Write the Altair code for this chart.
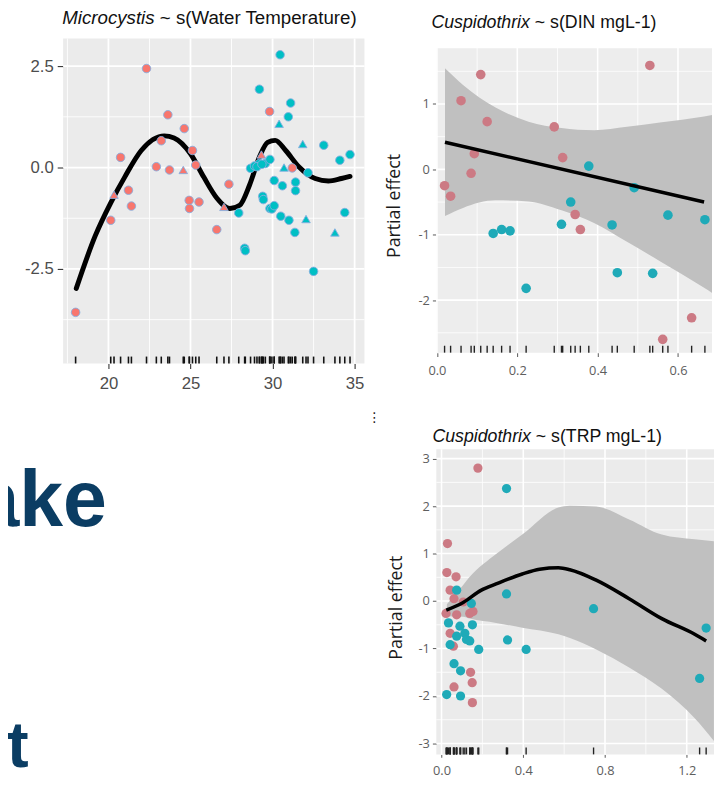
import altair as alt
import pandas as pd

FONT = "Liberation Sans"
FONT2 = "Open Sans"

# ---------------- Panel 1: Microcystis ~ s(Water Temperature) ----------------
P1_TITLE = ["Microcystis", "~ s(Water Temperature)"]
P1_X_TICKS = [20, 25, 30, 35]
P1_X_MINOR = [17.5, 22.5, 27.5, 32.5]
P1_Y_TICKS = [-2.5, 0.0, 2.5]
P1_Y_MINOR = [-3.75, -1.25, 1.25]

P1_RED_CIRC_X = [18.0, 20.14, 20.74, 21.22, 21.4, 22.32, 22.92, 23.22, 23.62, 23.72,
                 24.62, 25.12, 25.32, 24.92, 24.94, 25.52, 26.6, 27.34, 29.82, 31.2]
P1_RED_CIRC_Y = [-3.57, -1.30, 0.25, -0.56, -0.95, 2.44, 0.02, 0.66, 1.30, -0.06,
                 0.96, 0.42, 0.06, -0.81, -1.01, -0.85, -1.53, -0.41, 1.38, -0.01]
P1_RED_TRI_X = [20.34, 24.56, 27.04, 29.32]
P1_RED_TRI_Y = [-0.67, -0.06, -0.97, 0.32]
P1_TEAL_CIRC_X = [27.94, 28.30, 28.34, 28.66, 28.90, 29.20, 29.20, 29.56, 29.84, 29.40,
                  29.44, 29.84, 29.96, 30.10, 30.10, 30.46, 30.60, 30.50, 30.96, 31.10,
                  31.00, 31.36, 31.40, 31.40, 32.16, 32.50, 33.12, 34.10, 34.72, 34.40,
                  29.05, 29.35]
P1_TEAL_CIRC_Y = [-1.12, -1.99, -2.05, -0.02, 0.04, 1.93, 0.10, 0.10, 0.20, -0.71,
                  -0.79, -1.01, -1.02, -0.94, -0.32, 2.78, -0.45, -1.20, 1.25, 1.59,
                  -1.30, -1.60, -0.36, -0.57, -0.13, -2.56, 0.55, 0.18, 0.32, -1.11,
                  0.02, 0.08]
P1_TEAL_TRI_X = [30.40, 30.70, 31.84, 32.04, 33.80]
P1_TEAL_TRI_Y = [1.08, 0.00, 0.58, -1.27, -1.60]
P1_CURVE_X = [18.04, 19.2, 20.14, 21.0, 22.0, 23.4, 24.0, 25.0, 25.8, 26.6, 27.4,
              28.0, 28.6, 29.2, 29.7, 30.16, 30.8, 31.6, 32.6, 33.4, 34.2, 34.72]
P1_CURVE_Y = [-2.98, -1.68, -0.87, -0.23, 0.42, 0.78, 0.73, 0.34, -0.23, -0.75, -1.01,
              -0.93, -0.43, 0.26, 0.62, 0.67, 0.42, 0.02, -0.27, -0.33, -0.27, -0.22]

# ---------------- Panel 2: Cuspidothrix ~ s(DIN mgL-1) ----------------
P2_TITLE = ["Cuspidothrix", "~ s(DIN mgL-1)"]
AXIS_TITLE = ["Partial effect"]
P2_X_TICKS = [0.0, 0.2, 0.4, 0.6]
P2_X_MINOR = [0.1, 0.3, 0.5]
P2_Y_TICKS = [-2, -1, 0, 1]
P2_Y_MINOR = [-2.5, -1.5, -0.5, 0.5, 1.5]
P2_PINK_X = [0.019, 0.034, 0.060, 0.109, 0.125, 0.093, 0.085, 0.292, 0.313, 0.344,
             0.357, 0.530, 0.562, 0.634]
P2_PINK_Y = [-0.25, -0.41, 1.05, 1.45, 0.73, 0.24, -0.06, 0.65, 0.18, -0.69,
             -0.92, 1.59, -2.60, -2.27]
P2_TEAL_X = [0.140, 0.161, 0.182, 0.222, 0.310, 0.333, 0.378, 0.436, 0.449, 0.491,
             0.537, 0.575, 0.667]
P2_TEAL_Y = [-0.98, -0.92, -0.94, -1.82, -0.84, -0.50, 0.05, -0.85, -1.58, -0.28,
             -1.59, -0.70, -0.77]
P2_FIT_X = [0.020, 0.665]
P2_FIT_Y = [0.415, -0.50]
P2_BAND_X = [0.020, 0.065, 0.146, 0.228, 0.310, 0.391, 0.473, 0.555, 0.665, 0.685]
P2_BAND_LO = [-0.715, -0.589, -0.474, -0.490, -0.627, -0.821, -1.108, -1.404, -1.810, -1.89]
P2_BAND_HI = [1.545, 1.291, 0.946, 0.730, 0.633, 0.599, 0.652, 0.716, 0.810, 0.83]

# ---------------- Panel 3: Cuspidothrix ~ s(TRP mgL-1) ----------------
P3_TITLE = ["Cuspidothrix", "~ s(TRP mgL-1)"]
P3_X_TICKS = [0.0, 0.4, 0.8, 1.2]
P3_X_MINOR = [0.2, 0.6, 1.0]
P3_Y_TICKS = [-3, -2, -1, 0, 1, 2, 3]
P3_Y_MINOR = [-2.5, -1.5, -0.5, 0.5, 1.5, 2.5]
P3_PINK_X = [0.029, 0.026, 0.071, 0.042, 0.061, 0.106, 0.022, 0.074, 0.138, 0.154,
             0.042, 0.058, 0.142, 0.150, 0.061, 0.151, 0.178]
P3_PINK_Y = [1.21, 0.60, 0.51, 0.23, 0.05, -0.02, -0.26, -0.29, -0.26, -0.22,
             -0.68, -0.95, -1.50, -1.72, -1.81, -2.14, 2.80]
P3_TEAL_X = [0.074, 0.146, 0.034, 0.090, 0.114, 0.151, 0.074, 0.122, 0.042, 0.138,
             0.182, 0.061, 0.093, 0.025, 0.093, 0.318, 0.318, 0.323, 0.414, 0.744,
             1.295, 1.263]
P3_TEAL_Y = [0.23, -0.05, -0.46, -0.53, -0.68, -0.50, -0.74, -0.81, -0.92, -0.84,
             -1.02, -1.32, -1.47, -1.97, -2.00, 2.37, 0.15, -0.82, -1.02, -0.16,
             -0.57, -1.63]
P3_FIT_X = [0.023, 0.106, 0.195, 0.267, 0.395, 0.480, 0.572, 0.628, 0.757, 0.918,
            1.078, 1.239, 1.295]
P3_FIT_Y = [-0.19, -0.03, 0.23, 0.36, 0.57, 0.67, 0.70, 0.66, 0.44, 0.05,
            -0.37, -0.70, -0.84]
P3_BAND_X = [0.026, 0.106, 0.138, 0.267, 0.395, 0.572, 0.628, 0.757, 0.918, 1.078, 1.239, 1.333]
P3_BAND_LO = [-0.32, -0.33, -0.37, -0.46, -0.56, -0.70, -0.78, -1.02, -1.40, -1.85, -2.47, -2.95]
P3_BAND_HI = [-0.07, 0.34, 0.51, 0.99, 1.40, 1.97, 2.01, 1.99, 1.72, 1.40, 1.30, 1.26]

BIG_WORDS = ["ake", "t"]
MISC_MARK = ["\u22ee"]

HYPHEN = "replace(datum.label, '\u2212', '-')"


def one(txt):
    return pd.DataFrame({"t": [txt]})


def make_xy(domain, ticks, fmt, font, size, color, tick_size, pad, tick_color):
    def X(field="x"):
        return alt.X(f"{field}:Q", scale=alt.Scale(domain=domain[0], nice=False, zero=False),
                     axis=alt.Axis(values=ticks[0], format=fmt[0], title=None, grid=False,
                                   domain=False, labelFont=font, labelFontSize=size,
                                   labelColor=color, tickColor=tick_color, tickWidth=1.1,
                                   tickSize=tick_size[0], labelPadding=pad[0],
                                   labelFlush=False, labelExpr=HYPHEN))

    def Y(field="y"):
        return alt.Y(f"{field}:Q", scale=alt.Scale(domain=domain[1], nice=False, zero=False),
                     axis=alt.Axis(values=ticks[1], format=fmt[1], title=None, grid=False,
                                   domain=False, labelFont=font, labelFontSize=size,
                                   labelColor=color, tickColor=tick_color, tickWidth=1.1,
                                   tickSize=tick_size[1], labelPadding=pad[1],
                                   labelFlush=False, labelExpr=HYPHEN))
    return X, Y


def grids(X, Y, xmaj, xmin, ymaj, ymin, wmaj, wmin):
    return [
        alt.Chart(pd.DataFrame({"x": xmin})).mark_rule(color="white", strokeWidth=wmin).encode(x=X()),
        alt.Chart(pd.DataFrame({"y": ymin})).mark_rule(color="white", strokeWidth=wmin).encode(y=Y()),
        alt.Chart(pd.DataFrame({"x": xmaj})).mark_rule(color="white", strokeWidth=wmaj).encode(x=X()),
        alt.Chart(pd.DataFrame({"y": ymaj})).mark_rule(color="white", strokeWidth=wmaj).encode(y=Y()),
    ]


def title_layers(parts, join, gap, y, size, font):
    return [
        alt.Chart(one(parts[0])).mark_text(align="right", baseline="alphabetic", font=font,
                                           fontSize=size, fontStyle="italic", color="#111111")
        .encode(text="t:N", x=alt.value(join), y=alt.value(y)),
        alt.Chart(one(parts[1])).mark_text(align="left", baseline="alphabetic", font=font,
                                           fontSize=size, color="#111111")
        .encode(text="t:N", x=alt.value(join + gap), y=alt.value(y)),
    ]


# ======================= Panel 1 =======================
W1, H1 = 306, 330
X1, Y1 = make_xy(([17.24, 35.6], [-4.83, 3.18]), (P1_X_TICKS, P1_Y_TICKS), ("d", ".1f"),
                 FONT, 17, "#4D4D4D", (5, 6), (7, 4), "#333333")

p1_pts = pd.concat([
    pd.DataFrame({"x": P1_RED_CIRC_X, "y": P1_RED_CIRC_Y, "g": "red", "s": "circle"}),
    pd.DataFrame({"x": P1_RED_TRI_X, "y": P1_RED_TRI_Y, "g": "red", "s": "triangle"}),
    pd.DataFrame({"x": P1_TEAL_CIRC_X, "y": P1_TEAL_CIRC_Y, "g": "teal", "s": "circle"}),
    pd.DataFrame({"x": P1_TEAL_TRI_X, "y": P1_TEAL_TRI_Y, "g": "teal", "s": "triangle"}),
], ignore_index=True)

p1_layers = grids(X1, Y1, P1_X_TICKS, P1_X_MINOR, P1_Y_TICKS, P1_Y_MINOR, 1.8, 0.9)
p1_layers += [
    alt.Chart(p1_pts).mark_rule(color="#111111", strokeWidth=1.6)
    .encode(x=X1(), y=alt.value(H1 - 7), y2=alt.value(H1)),
    alt.Chart(pd.DataFrame({"x": P1_CURVE_X, "y": P1_CURVE_Y}))
    .mark_line(color="black", strokeWidth=5, interpolate="monotone", strokeCap="round")
    .encode(x=X1(), y=Y1()),
    alt.Chart(p1_pts).mark_point(filled=True, size=75, opacity=1, stroke="#86AEE0", strokeWidth=0.9)
    .encode(x=X1(), y=Y1(),
            color=alt.Color("g:N", scale=alt.Scale(domain=["red", "teal"], range=["#F8766D", "#00BFC4"]), legend=None),
            shape=alt.Shape("s:N", scale=alt.Scale(domain=["circle", "triangle"], range=["circle", "triangle-up"]), legend=None)),
]
p1_layers += title_layers(P1_TITLE, 92.9, 5.3, -15, 19, FONT)
p1 = alt.layer(*p1_layers).properties(width=W1, height=H1,
                                      view=alt.ViewBackground(fill="#EBEBEB", stroke=None))

# ======================= Panel 2 =======================
W2, H2 = 280, 319
X2, Y2 = make_xy(([-0.0015, 0.6848], [-2.803, 2.0015]), (P2_X_TICKS, P2_Y_TICKS), (".1f", "d"),
                 FONT2, 13, "#5E5E5E", (4, 4), (8, 3), "#666666")
p2_pts = pd.concat([
    pd.DataFrame({"x": P2_PINK_X, "y": P2_PINK_Y, "g": "pink"}),
    pd.DataFrame({"x": P2_TEAL_X, "y": P2_TEAL_Y, "g": "teal"}),
], ignore_index=True)

p2_layers = [
    alt.Chart(one("bg")).mark_rect(color="#EDEDED")
    .encode(x=alt.value(0), x2=alt.value(W2), y=alt.value(10), y2=alt.value(H2)),
]
p2_layers += grids(X2, Y2, P2_X_TICKS, P2_X_MINOR, P2_Y_TICKS, P2_Y_MINOR, 1.6, 0.8)
p2_layers += [
    alt.Chart(pd.DataFrame({"x": P2_BAND_X, "lo": P2_BAND_LO, "hi": P2_BAND_HI}))
    .mark_area(color="#C0C0C0", opacity=1, interpolate="monotone", clip=True)
    .encode(x=X2(), y=Y2("lo"), y2="hi:Q"),
    alt.Chart(p2_pts).mark_rule(color="#222222", strokeWidth=1.4)
    .encode(x=X2(), y=alt.value(H2 - 7), y2=alt.value(H2)),
    alt.Chart(p2_pts).mark_circle(size=95, opacity=1, clip=True)
    .encode(x=X2(), y=Y2(),
            color=alt.Color("g:N", scale=alt.Scale(domain=["pink", "teal"], range=["#CC7A84", "#1FAAB8"]), legend=None)),
    alt.Chart(pd.DataFrame({"x": P2_FIT_X, "y": P2_FIT_Y}))
    .mark_line(color="black", strokeWidth=3.6, clip=True)
    .encode(x=X2(), y=Y2()),
    alt.Chart(one(AXIS_TITLE[0])).mark_text(angle=270, align="center", baseline="middle",
                                            font=FONT2, fontSize=18, color="#1A1A1A")
    .encode(text="t:N", x=alt.value(-42), y=alt.value(170)),
]
p2_layers += title_layers(P2_TITLE, 95.0, 5.0, -11, 18, FONT)
p2 = alt.layer(*p2_layers).properties(width=W2, height=H2)

# ======================= Big slide text =======================
tv = alt.layer(
    alt.Chart(one(BIG_WORDS[0])).mark_text(align="left", baseline="alphabetic", font=FONT,
                                           fontWeight="bold", fontSize=80, color="#0B3D63")
    .encode(text="t:N", x=alt.value(-89), y=alt.value(78)),
    alt.Chart(one(BIG_WORDS[1])).mark_text(align="left", baseline="alphabetic", font=FONT,
                                           fontWeight="bold", fontSize=66, color="#0B3D63")
    .encode(text="t:N", x=alt.value(-57), y=alt.value(323)),
).properties(width=304, height=280)

# ======================= Panel 3 =======================
W3, H3 = 282, 310
X3, Y3 = make_xy(([-0.0255, 1.3335], [-3.23, 3.20]), (P3_X_TICKS, P3_Y_TICKS), (".1f", "d"),
                 FONT2, 13, "#5E5E5E", (3, 4), (7, 3), "#666666")
p3_pts = pd.concat([
    pd.DataFrame({"x": P3_PINK_X, "y": P3_PINK_Y, "g": "pink"}),
    pd.DataFrame({"x": P3_TEAL_X, "y": P3_TEAL_Y, "g": "teal"}),
], ignore_index=True)

p3_layers = grids(X3, Y3, P3_X_TICKS, P3_X_MINOR, P3_Y_TICKS, P3_Y_MINOR, 1.6, 0.8)
p3_layers += [
    alt.Chart(pd.DataFrame({"x": P3_BAND_X, "lo": P3_BAND_LO, "hi": P3_BAND_HI}))
    .mark_area(color="#C0C0C0", opacity=1, interpolate="monotone", clip=True)
    .encode(x=X3(), y=Y3("lo"), y2="hi:Q"),
    alt.Chart(p3_pts).mark_rule(color="#222222", strokeWidth=1.4)
    .encode(x=X3(), y=alt.value(H3 - 7), y2=alt.value(H3)),
    alt.Chart(p3_pts).mark_circle(size=88, opacity=1, clip=True)
    .encode(x=X3(), y=Y3(),
            color=alt.Color("g:N", scale=alt.Scale(domain=["pink", "teal"], range=["#CC7A84", "#1FAAB8"]), legend=None)),
    alt.Chart(pd.DataFrame({"x": P3_FIT_X, "y": P3_FIT_Y}))
    .mark_line(color="black", strokeWidth=3.6, interpolate="monotone", clip=True)
    .encode(x=X3(), y=Y3()),
    alt.Chart(one(AXIS_TITLE[0])).mark_text(angle=270, align="center", baseline="middle",
                                            font=FONT2, fontSize=18, color="#1A1A1A")
    .encode(text="t:N", x=alt.value(-40), y=alt.value(161)),
    alt.Chart(one(MISC_MARK[0])).mark_text(align="center", baseline="middle", font="DejaVu Sans",
                                           fontSize=14, color="#222222")
    .encode(text="t:N", x=alt.value(-63), y=alt.value(-32)),
]
p3_layers += title_layers(P3_TITLE, 96.0, 5.0, -7, 18, FONT)
p3 = alt.layer(*p3_layers).properties(width=W3, height=H3,
                                      view=alt.ViewBackground(fill="#EBEBEB", stroke=None))

chart = alt.concat(
    p1, p2, tv, p3,
    columns=2,
    spacing={"row": 87, "column": 73},
    align="none",
    bounds="flush",
).resolve_scale(
    color="independent", shape="independent"
).properties(
    padding={"left": -33, "top": -5, "right": 0, "bottom": -7},
    background="white",
).configure_view(stroke=None)

chart.save("out.html", embed_options={"renderer": "svg", "actions": False})
